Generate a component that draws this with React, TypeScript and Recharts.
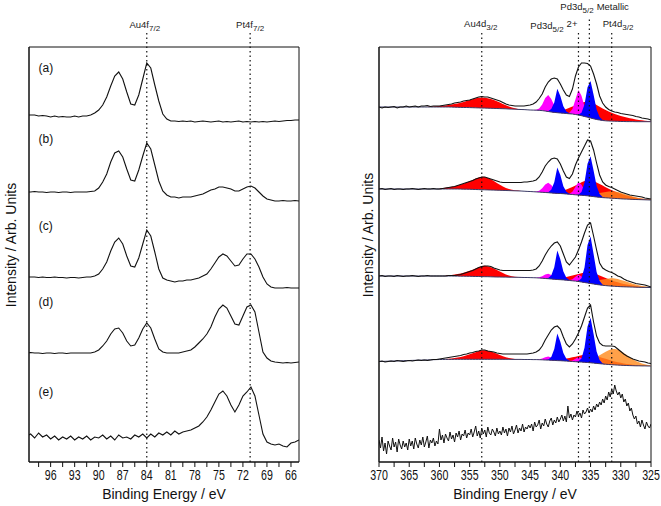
import React from "react";
import {
  ComposedChart,
  Line,
  Area,
  XAxis,
  YAxis,
  ReferenceLine,
  ReferenceArea,
  ReferenceDot,
} from "recharts";

const FONT = "'Liberation Sans', Arial, Helvetica, sans-serif";

// uniform energy sampling grid (descending)
const grid = (from: number, to: number, step: number) => {
  const out: number[] = [];
  for (let i = 0; from - i * step >= to - 1e-6; i++) out.push(+(from - i * step).toFixed(2));
  return out;
};

// ---------------- Au4f / Pt4f panel ----------------
const auEnergy = grid(99, 65, 0.5);
const auTicks = grid(97.5, 66, 1.5);

const auA = [
  7, 7, 7, 6, 6.5, 6, 5, 6, 5, 5.5,
  5, 5, 6, 5, 6, 6, 7, 9, 12, 17,
  25, 36, 46, 50, 43, 30, 18, 17, 27, 43,
  59, 54, 37, 21, 8, 3, 1, 1, 0.5, 1,
  0.5, 1, 0, 0.5, 1, 0.5, 0, 0.5, 1, 0,
  0.5, 0, 0.5, 1, 0, 0.5, 0, 0.5, 0, 0.5,
  0, 0.5, 1, 0.5, 1, 1.5, 1.5, 2, 2,
];
const auB = [
  10, 10, 10.5, 10, 10, 9.5, 10, 10, 9.5, 10,
  10, 9.5, 10, 10, 10, 10, 10.5, 11, 14, 20,
  28, 40, 49, 51, 45, 33, 22, 21, 32, 46,
  59, 53, 37, 21, 11, 7, 5, 5, 4, 5,
  5, 5, 6, 7, 8, 10, 12, 13, 15, 15,
  14, 13, 11, 11, 13, 15, 16, 14, 10, 6,
  3, 2, 1, 1, 1.5, 1, 1, 1.5, 1,
];
const auC = [
  12, 12, 12, 11.5, 12, 11.5, 11.5, 12, 11.5, 11.5,
  11, 11.5, 11.5, 11, 11.5, 12, 12, 13, 15, 20,
  27, 38, 47, 51, 45, 33, 23, 22, 31, 45,
  59, 53, 37, 20, 11, 9, 8, 7, 8, 8,
  9, 9, 10, 11, 13, 15, 20, 26, 32, 35,
  33, 28, 23, 24, 30, 35, 35, 30, 22, 12,
  5, 2, 1, 1, 1, 1.5, 1, 1, 1,
];
const auD = [
  11, 11.5, 11, 11, 10.5, 11, 11, 10.5, 11, 11,
  10.5, 11, 11, 11, 11, 11, 11, 12, 14, 18,
  23, 30, 35, 36, 31, 23, 18, 19, 26, 35,
  41, 36, 25, 15, 12, 11, 11, 11, 11, 12,
  13, 14, 17, 21, 25, 30, 37, 47, 55, 59,
  56, 48, 40, 39, 48, 57, 59, 52, 32, 12,
  6, 3, 2, 1.5, 1, 1.5, 1, 1.5, 2,
];
const auE = [
  26, 28, 24, 29, 25, 27, 23, 26, 22, 25,
  23, 26, 22, 25, 23, 26, 22, 25, 24, 27,
  23, 26, 22, 27, 24, 25, 23, 27, 25, 28,
  24, 28, 25, 29, 27, 30, 27, 31, 28, 30,
  31, 32, 34, 36, 40, 45, 52, 60, 68, 71,
  66, 57, 50, 57, 66, 70, 75, 66, 47, 28,
  20, 18, 17, 18, 16, 15, 19, 20, 22,
];
const auTraces = [auA, auB, auC, auD, auE];
const auOffsets = [340, 260, 173, 98, 0];
const auTags = ["(a)", "(b)", "(c)", "(d)", "(e)"];
const auTagLevel = [394, 323, 236, 160, 70];

const auRows = auEnergy.map((e, i) => {
  const row: any = { e };
  auTraces.forEach((t, k) => (row[`t${k}`] = t[i] + auOffsets[k]));
  return row;
});

// ---------------- Pd3d / Au4d / Pt4d panel ----------------
const pdEnergy = grid(370, 325, 0.5);
const pdTicks = grid(370, 325, 2.5);

const pd1 = [
  15, 14, 15, 14.5, 15, 15.5, 14, 15, 15, 16,
  15, 15.5, 16, 15, 16, 16, 16.5, 15.5, 16, 16,
  16, 16.5, 17, 17.5, 18, 19, 19.5, 20, 21, 21.5,
  22, 23, 24, 25, 25.5, 25, 25, 24, 23, 22,
  21, 19.5, 18, 17, 16.5, 16, 16, 16, 16, 16.5,
  17, 18, 20, 23.5, 28, 35, 40, 43, 44, 43,
  38, 32, 27, 25.5, 33, 46, 55, 59, 59, 58.5,
  56, 48, 38, 26, 19, 15, 12.5, 11, 10, 9.5,
  8.5, 8, 7.5, 7, 6.5, 5.5, 5, 4, 3.5, 3,
  2,
];
const pd2 = [
  11, 11.5, 10.5, 11, 11.5, 10.5, 11, 11, 10.5, 11,
  11, 11.5, 11, 10.5, 11, 11.5, 11, 11, 11.5, 11,
  11, 11.5, 12, 12.5, 13, 13.5, 14.5, 15.5, 16.5, 17.5,
  18.5, 19.5, 21, 22, 23, 23, 22, 21, 20, 19,
  18, 17.5, 17.5, 17.5, 17.5, 17.5, 17.5, 17.5, 18, 18,
  18.5, 19, 20, 23, 28, 34, 38, 41, 42, 41,
  36, 29, 23, 21.5, 26, 35, 42, 48, 54, 60,
  59, 50, 37, 25, 18, 15, 13.5, 12.5, 11, 9.5,
  8, 7, 6, 5, 4.5, 4, 3.5, 3, 2, 1.5,
  1,
];
const pd3 = [
  12, 12.5, 11.5, 12, 12, 11.5, 12.5, 12, 11.5, 12,
  12, 12.5, 12, 11.5, 12, 12, 12.5, 12, 12, 12,
  12, 12, 12, 12.5, 12.5, 12.5, 13, 13.5, 14.5, 15.5,
  16.5, 17.5, 19, 20.5, 21.5, 22, 22, 21.5, 20, 19,
  18, 17.5, 17.5, 17.5, 17.5, 17.5, 17.5, 17.5, 17.5, 17.5,
  17.5, 18, 19, 22, 27, 33, 38, 42, 45, 46,
  42, 34, 26, 23, 27, 31, 38, 46, 55, 63,
  65, 52, 38, 25, 20, 18, 16.5, 15.5, 14, 12,
  11, 9, 7.5, 6.5, 5.5, 4.5, 4, 3.5, 3, 2,
  1,
];
const pd4 = [
  4.5, 5, 4, 4.5, 5, 4.5, 5.5, 5, 4.5, 5,
  5.5, 5, 5.5, 6, 5.5, 6, 5.5, 6, 6.5, 6.5,
  7, 7.5, 8, 8.5, 9, 9.5, 10, 10.5, 11.5, 12,
  13, 13.5, 14.5, 15, 16, 16, 15, 14.5, 14, 13,
  12.5, 12, 12, 12, 12, 12, 12, 12, 12, 12,
  12.5, 13, 14, 16, 20, 26, 31, 36, 39, 40,
  37, 29, 22, 19, 22, 27, 33, 40, 49, 58,
  61, 44, 30, 23, 20.5, 20, 20, 20, 19.5, 17,
  14.5, 12, 10, 8.5, 7, 6, 5, 4.5, 4, 3,
  2.5,
];

// unfitted bottom spectrum, sampled finer (0.25 eV)
const pd5Energy = grid(370, 325, 0.25);
const pd5 = [
  22, 14, 25, 11, 19, 8, 21, 16, 12, 24, 15, 20, 10, 23, 17, 13, 21, 15, 19, 12,
  23, 16, 21, 13, 24, 18, 14, 22, 17, 25, 15, 20, 26, 14, 22, 19, 24, 16, 21, 18,
  33, 22, 27, 19, 28, 24, 21, 30, 23, 27, 20, 29, 25, 31, 22, 28, 26, 32, 24, 29,
  27, 33, 25, 30, 36, 26, 31, 24, 34, 28, 32, 25, 35, 29, 27, 33, 30, 26, 34, 28,
  31, 27, 35, 29, 33, 26, 34, 30, 36, 28, 32, 37, 29, 34, 31, 38, 30, 35, 33, 37,
  34, 38, 31, 40, 35, 37, 42, 33, 39, 36, 43, 38, 35, 41, 44, 37, 42, 39, 45, 40,
  43, 47, 41, 46, 40, 56, 44, 48, 42, 47, 45, 51, 46, 49, 44, 52, 48, 50, 54, 49,
  53, 50, 56, 52, 58, 55, 60, 57, 63, 59, 66, 62, 70, 65, 73, 68, 77, 71, 67, 70,
  64, 68, 60, 63, 56, 59, 51, 54, 47, 43, 46, 38, 41, 35, 42, 37, 33, 40, 36, 34,
  38,
];

// Shirley-type backgrounds under the fitted spectra
const bg1 = [
  15, 15, 15, 15, 15, 15, 15, 15, 15, 15,
  15, 15, 15, 15, 15, 15, 15, 15, 15, 15,
  15, 15, 15, 15, 14.9, 14.8, 14.7, 14.6, 14.5, 14.5,
  14.4, 14.3, 14.2, 14.1, 14, 13.9, 13.8, 13.7, 13.6, 13.5,
  13.4, 13.3, 13.2, 13, 12.9, 12.8, 12.6, 12.5, 12.4, 12.2,
  12, 11.9, 11.8, 11.6, 11.4, 11, 10.5, 10, 9.6, 9.3,
  9, 8.8, 8.5, 8.2, 8, 7.5, 7, 6.3, 5.5, 4.8,
  4, 3.2, 2.5, 2, 1.5, 1.2, 1, 0.9, 0.8, 0.7,
  0.5, 0.5, 0.4, 0.4, 0.4, 0.3, 0.3, 0.3, 0.3, 0.3,
  0.3,
];
const bg2 = [
  11, 11, 11, 11, 11, 11, 11, 11, 11, 11,
  11, 11, 11, 11, 11, 11, 11, 11, 11, 11,
  11, 11, 11, 11, 11, 11, 11, 10.9, 10.8, 10.8,
  10.7, 10.6, 10.5, 10.4, 10.3, 10.2, 10.1, 10, 9.9, 9.8,
  9.7, 9.6, 9.5, 9.4, 9.3, 9.2, 9.1, 9, 8.8, 8.6,
  8.5, 8.3, 8.1, 7.9, 7.7, 7.5, 7.3, 7, 6.8, 6.6,
  6.5, 6.3, 6, 5.8, 5.5, 5.2, 5, 4.7, 4.5, 4.2,
  3.8, 3.4, 3, 2.7, 2.4, 2.2, 2, 1.8, 1.6, 1.4,
  1.2, 1, 0.9, 0.8, 0.6, 0.5, 0.4, 0.3, 0.2, 0.1,
  0,
];
const bg3 = [
  12, 12, 12, 12, 12, 12, 12, 12, 12, 12,
  12, 12, 12, 12, 12, 12, 12, 12, 12, 12,
  12, 12, 12, 12, 12, 11.9, 11.9, 11.8, 11.8, 11.7,
  11.7, 11.6, 11.5, 11.5, 11.4, 11.3, 11.3, 11.2, 11.1, 11,
  11, 10.9, 10.9, 10.8, 10.8, 10.7, 10.7, 10.6, 10.5, 10.5,
  10.4, 10.3, 10.2, 10, 9.8, 9.5, 9.3, 9, 8.7, 8.5,
  8.3, 8.1, 7.8, 7.5, 7.2, 6.9, 6.5, 6, 5.5, 5,
  4.5, 4, 3.5, 3.1, 2.7, 2.4, 2.1, 1.9, 1.7, 1.5,
  1.3, 1.2, 1.1, 1, 0.9, 0.8, 0.7, 0.6, 0.6, 0.5,
  0.5,
];
const bg4 = [
  4.5, 4.6, 4.7, 4.8, 4.9, 5, 5.1, 5.2, 5.3, 5.4,
  5.5, 5.6, 5.7, 5.8, 5.9, 6, 6.1, 6.2, 6.3, 6.4,
  6.5, 6.5, 6.6, 6.6, 6.6, 6.7, 6.7, 6.7, 6.7, 6.7,
  6.7, 6.7, 6.7, 6.7, 6.7, 6.7, 6.7, 6.7, 6.7, 6.7,
  6.7, 6.7, 6.7, 6.7, 6.6, 6.6, 6.6, 6.6, 6.5, 6.5,
  6.5, 6.4, 6.4, 6.3, 6.2, 6, 5.9, 5.7, 5.6, 5.4,
  5.3, 5.1, 4.9, 4.7, 4.5, 4.3, 4.1, 3.9, 3.7, 3.5,
  3.2, 2.9, 2.6, 2.3, 2, 1.8, 1.5, 1.3, 1.1, 0.9,
  0.8, 0.6, 0.5, 0.4, 0.3, 0.2, 0.2, 0.1, 0.1, 0,
  0,
];

// fitted components (height above background), each starts at the given energy
const redStart = [362, 360, 359, 359];
const red1 = [
  0.3, 0.4, 0.6, 0.8, 1, 1.3, 1.6, 2, 2.5, 3.1, 3.8, 4.6, 5.5, 6.5, 7.5, 8.5, 9.5,
  10.2, 10.5, 10.4, 10, 9.3, 8.5, 7.3, 6, 4.7, 3.5, 2.4, 1.5, 0.9, 0.5, 0.2, 0,
  0, 0, 0, 0, 0,
  0.2, 0.4, 0.7, 1, 1.5, 2, 2.5, 3.3, 4.5, 6, 7.5, 9, 11, 13, 14.5, 15.5, 16, 15.5,
  14.5, 13.3, 12, 10.8, 9.5, 8.4, 7.3, 6.4, 5.5, 4.7, 4, 3.4, 2.8, 2.3, 1.8, 1.4, 1,
  0.7, 0.5,
];
const red2 = [
  0.5, 0.8, 1.2, 1.7, 2.2, 2.8, 3.5, 4.5, 5.5, 6.7, 8, 9.5, 11, 12.2, 13, 12.8, 12,
  10.7, 9, 7.2, 5.5, 4, 2.5, 1.6, 1, 0.6, 0.3, 0.1, 0,
  0, 0, 0, 0, 0,
  0.2, 0.4, 0.7, 1, 1.5, 2, 2.6, 3.4, 4.5, 6, 7.5, 9.2, 11, 13, 14.5, 15.5, 16, 15.5,
  14.5, 13.2, 12, 10.6, 9.3, 8, 7, 6, 5, 4.2, 3.5, 2.9, 2.3, 1.8, 1.4, 1, 0.7, 0.5, 0.3,
];
const red3 = [
  0.5, 0.7, 1, 1.5, 2, 2.7, 3.5, 4.5, 5.5, 6.7, 8, 9.3, 10.5, 11, 10.5, 9.6, 8.5, 7,
  5.5, 4, 2.5, 1.6, 1, 0.6, 0.3, 0.1, 0,
  0, 0, 0, 0, 0,
  0.1, 0.3, 0.5, 0.8, 1.1, 1.5, 2, 2.6, 3.3, 4.2, 5.2, 6.3, 7.5, 8.8, 10, 10.8, 11.2,
  11, 10.3, 9.4, 8.5, 7.5, 6.6, 5.7, 4.9, 4.2, 3.5, 2.9, 2.4, 2, 1.6, 1.2, 0.9, 0.7,
  0.5, 0.3, 0.2,
];
const red4 = [
  0.4, 0.6, 0.9, 1.3, 1.8, 2.4, 3.1, 4, 5, 6, 7, 8.2, 9, 9, 8.5, 7.7, 6.7, 5.5, 4.3,
  3.1, 2, 1.3, 0.8, 0.5, 0.2, 0.1, 0,
  0, 0, 0, 0, 0,
  0.1, 0.2, 0.4, 0.6, 0.9, 1.2, 1.6, 2.1, 2.7, 3.4, 4.2, 5, 5.9, 6.8, 7.5, 8, 8.2, 8,
  7.5, 6.8, 6.1, 5.4, 4.7, 4, 3.4, 2.9, 2.4, 2, 1.6, 1.3, 1, 0.8, 0.6, 0.4, 0.3, 0.2,
  0.1,
];

const orangeStart = 338;
const orange2 = [
  0.2, 0.3, 0.5, 0.8, 1.1, 1.5, 2, 2.7, 3.5, 4.3, 5.1, 5.9, 6.5, 7, 6.9, 6.5, 6, 5.2,
  4.4, 3.6, 2.8, 2.2, 1.7, 1.2, 0.9, 0.6, 0.4,
];
const orange3 = [
  0.3, 0.4, 0.6, 0.9, 1.3, 1.8, 2.4, 3.1, 3.9, 4.8, 5.7, 6.6, 7.4, 8, 7.9, 7.4, 6.8,
  6, 5.1, 4.2, 3.3, 2.6, 2, 1.5, 1.1, 0.8, 0.5,
];
const orange4 = [
  0.3, 0.5, 0.8, 1.2, 1.8, 2.6, 3.6, 5, 6.6, 8.4, 10.4, 12.4, 14.3, 15.6, 16, 15.5,
  14.2, 12.4, 10.4, 8.3, 6.4, 4.8, 3.5, 2.5, 1.7, 1.1, 0.7,
];

const magentaStart = 344.5;
const magenta1 = [0, 0.5, 2, 6, 13, 16.5, 13, 7, 2.5, 0.5, 0, 0, 1, 5, 15, 25, 20, 10, 3.5, 1, 0.2, 0];
const magenta2 = [0, 0.4, 1.3, 4, 8, 10, 8, 4.3, 1.5, 0.3, 0, 0, 0.5, 2.7, 8, 13, 10.5, 5.2, 1.8, 0.5, 0.1, 0];
const magenta3 = [0, 0.2, 0.7, 2, 4, 5, 4, 2.2, 0.8, 0.2, 0, 0, 0.3, 1.5, 4.3, 7, 5.6, 2.8, 1, 0.3, 0.1, 0];
const magenta4 = [0, 0.1, 0.5, 1.4, 2.8, 3.5, 2.8, 1.5, 0.5, 0.1, 0, 0, 0.2, 1, 3, 5, 4, 2, 0.7, 0.2, 0, 0];

const blueStart = 342.5;
const blue1 = [0, 0.5, 3, 10, 24, 17, 7, 2, 0.5, 0, 0, 0.5, 3, 12, 30, 37, 24, 10, 3, 0.5, 0];
const blue2 = [0, 0.5, 3.2, 11, 26, 18.5, 7.5, 2.2, 0.5, 0, 0, 0.5, 3.2, 13, 32, 40, 26, 11, 3.2, 0.5, 0];
const blue3 = [0, 0.6, 3.6, 12, 29, 20.5, 8.5, 2.4, 0.6, 0, 0, 0.6, 3.8, 15, 38, 47, 30, 12.5, 3.8, 0.6, 0];
const blue4 = [0, 0.6, 3.4, 11.5, 27, 19, 8, 2.3, 0.6, 0, 0, 0.6, 3.6, 14.5, 36, 45, 29, 12, 3.6, 0.6, 0];

const pdTraces = [pd1, pd2, pd3, pd4];
const pdOffsets = [340, 262, 174, 96];
const pd5Offset = 0;
const pdBgs = [bg1, bg2, bg3, bg4];
const comps = [
  { key: "red", starts: redStart, segs: [red1, red2, red3, red4] },
  { key: "orange", starts: [orangeStart, orangeStart, orangeStart, orangeStart], segs: [null, orange2, orange3, orange4] },
  { key: "magenta", starts: [magentaStart, magentaStart, magentaStart, magentaStart], segs: [magenta1, magenta2, magenta3, magenta4] },
  { key: "blue", starts: [blueStart, blueStart, blueStart, blueStart], segs: [blue1, blue2, blue3, blue4] },
];
const compColor: any = { red: "#ff0000", orange: "#ff8a1c", magenta: "#ff00ff", blue: "#0000ff" };
const compOpacity: any = { red: 1, orange: 0.8, magenta: 1, blue: 1 };

const pdRows = pdEnergy.map((e, i) => {
  const row: any = { e };
  pdTraces.forEach((t, k) => (row[`s${k}`] = t[i] + pdOffsets[k]));
  pdBgs.forEach((b, k) => {
    const base = b[i] + pdOffsets[k];
    row[`bg${k}`] = base;
    comps.forEach((c) => {
      const seg = c.segs[k];
      if (!seg) return;
      const j = Math.round((c.starts[k] - e) / 0.5);
      row[`${c.key}${k}`] = j >= 0 && j < seg.length ? [base, base + seg[j]] : null;
    });
  });
  return row;
});
const pd5Rows = pd5Energy.map((e, i) => ({ e, raw: pd5[i] + pd5Offset }));

// ---------------- small render helpers ----------------
const EnergyTick = ({ x, y, payload, every }: any) => {
  const v = payload.value;
  const r = v / every;
  if (Math.abs(r - Math.round(r)) > 1e-6) return <g />;
  return (
    <g transform={`translate(${x},${y})`}>
      <text transform="scale(0.76,1)" y={10.5} textAnchor="middle" fontSize={14} fontFamily={FONT} fill="#111">
        {v}
      </text>
    </g>
  );
};

const XTitle = ({ viewBox }: any) => (
  <text x={viewBox.x + viewBox.width / 2} y={499} textAnchor="middle" fontSize={14} fontFamily={FONT} fill="#111">
    Binding Energy / eV
  </text>
);

const YTitle = ({ posX, posY }: any) => (
  <text
    x={posX}
    y={posY}
    transform={`rotate(-90 ${posX} ${posY})`}
    textAnchor="middle"
    dominantBaseline="central"
    fontSize={14}
    fontFamily={FONT}
    fill="#111"
  >
    Intensity / Arb. Units
  </text>
);

const PeakLabel = ({ viewBox, main, sub, tail, shift = 0, base, align = "middle", tailUp = 0 }: any) => (
  <text x={(viewBox?.x ?? 0) + shift} y={base} textAnchor={align} fontSize={9.5} fontFamily={FONT} fill="#222">
    {main}
    <tspan dy={3} fontSize={8}>
      {sub}
    </tspan>
    {tail ? <tspan dy={-3 - tailUp} dx={3}>{tail}</tspan> : null}
  </text>
);

const dotted = { stroke: "#111", strokeWidth: 1.2, strokeDasharray: "1.5 3" };

export default function App() {
  return (
    <div style={{ position: "absolute", left: 0, top: 0, width: 661, height: 506, background: "#fff" }}>
      <div style={{ position: "absolute", left: 0, top: 0 }}>
        <ComposedChart width={330} height={506} data={auRows} margin={{ top: 47, right: 31, bottom: 14, left: 9 }}>
          <XAxis
            dataKey="e"
            type="number"
            domain={[65, 98.7]}
            reversed
            allowDataOverflow
            ticks={auTicks}
            interval={0}
            tick={<EnergyTick every={3} />}
            tickSize={5}
            height={30}
            axisLine={{ stroke: "#111" }}
            tickLine={{ stroke: "#111" }}
            label={<XTitle />}
          />
          <YAxis
            type="number"
            domain={[0, 415]}
            allowDataOverflow
            width={20}
            tick={false}
            tickLine={false}
            axisLine={{ stroke: "#111" }}
            label={<YTitle posX={11} posY={245} />}
          />
          <ReferenceArea x1={65} x2={98.7} y1={0} y2={415} fill="none" stroke="#111" strokeWidth={1} ifOverflow="visible" />
          <ReferenceLine
            segment={[{ x: 84, y: 0 }, { x: 84, y: 430 }]}
            ifOverflow="visible"
            {...dotted}
            label={<PeakLabel main="Au4f" sub="7/2" shift={-2} base={28} />}
          />
          <ReferenceLine
            segment={[{ x: 71.1, y: 0 }, { x: 71.1, y: 430 }]}
            ifOverflow="visible"
            {...dotted}
            label={<PeakLabel main="Pt4f" sub="7/2" shift={0} base={28} />}
          />
          {auTags.map((t, k) => (
            <ReferenceDot
              key={t}
              x={96.6}
              y={auTagLevel[k]}
              r={0}
              fill="none"
              stroke="none"
              label={{ value: t, position: "center", fontSize: 12, fontFamily: FONT, fill: "#111" }}
            />
          ))}
          {auTraces.map((_, k) => (
            <Line
              key={k}
              dataKey={`t${k}`}
              type="linear"
              stroke="#111"
              strokeWidth={1.1}
              dot={false}
              isAnimationActive={false}
            />
          ))}
        </ComposedChart>
      </div>

      <div style={{ position: "absolute", left: 350, top: 0 }}>
        <ComposedChart width={311} height={506} data={pdRows} margin={{ top: 47, right: 10, bottom: 14, left: 9 }}>
          <XAxis
            dataKey="e"
            type="number"
            domain={[325, 370]}
            reversed
            allowDataOverflow
            ticks={pdTicks}
            interval={0}
            tick={<EnergyTick every={5} />}
            tickSize={5}
            height={30}
            axisLine={{ stroke: "#111" }}
            tickLine={{ stroke: "#111" }}
            label={<XTitle />}
          />
          <YAxis
            type="number"
            domain={[0, 415]}
            allowDataOverflow
            width={20}
            tick={false}
            tickLine={false}
            axisLine={{ stroke: "#111" }}
            label={<YTitle posX={18} posY={235} />}
          />
          <ReferenceArea x1={325} x2={370} y1={0} y2={415} fill="none" stroke="#111" strokeWidth={1} ifOverflow="visible" />
          {pdBgs.map((_, k) =>
            comps.map((c) =>
              c.segs[k] ? (
                <Area
                  key={`${c.key}${k}`}
                  dataKey={`${c.key}${k}`}
                  type="linear"
                  stroke="none"
                  fill={compColor[c.key]}
                  fillOpacity={compOpacity[c.key]}
                  dot={false}
                  activeDot={false}
                  isAnimationActive={false}
                />
              ) : null
            )
          )}
          <ReferenceLine
            segment={[{ x: 353, y: 0 }, { x: 353, y: 430 }]}
            ifOverflow="visible"
            {...dotted}
            label={<PeakLabel main="Au4d" sub="3/2" shift={-1} base={27} />}
          />
          <ReferenceLine
            segment={[{ x: 337, y: 0 }, { x: 337, y: 430 }]}
            ifOverflow="visible"
            {...dotted}
            label={<PeakLabel main="Pd3d" sub="5/2" tail="2+" tailUp={2} shift={-1} base={29} align="end" />}
          />
          <ReferenceLine
            segment={[{ x: 335.2, y: 0 }, { x: 335.2, y: 445 }]}
            ifOverflow="visible"
            {...dotted}
            label={<PeakLabel main="Pd3d" sub="5/2" tail="Metallic" shift={-29} base={10} align="start" />}
          />
          <ReferenceLine
            segment={[{ x: 331.5, y: 0 }, { x: 331.5, y: 430 }]}
            ifOverflow="visible"
            {...dotted}
            label={<PeakLabel main="Pt4d" sub="3/2" shift={-9} base={27} align="start" />}
          />
          {pdBgs.map((_, k) => (
            <Line
              key={`bg${k}`}
              dataKey={`bg${k}`}
              type="linear"
              stroke="#3a3a66"
              strokeWidth={1}
              dot={false}
              isAnimationActive={false}
            />
          ))}
          {pdTraces.map((_, k) => (
            <Line
              key={`s${k}`}
              dataKey={`s${k}`}
              type="linear"
              stroke="#111"
              strokeWidth={1.1}
              dot={false}
              isAnimationActive={false}
            />
          ))}
          <Line
            data={pd5Rows}
            dataKey="raw"
            type="linear"
            stroke="#111"
            strokeWidth={1}
            dot={false}
            isAnimationActive={false}
          />
        </ComposedChart>
      </div>
    </div>
  );
}
